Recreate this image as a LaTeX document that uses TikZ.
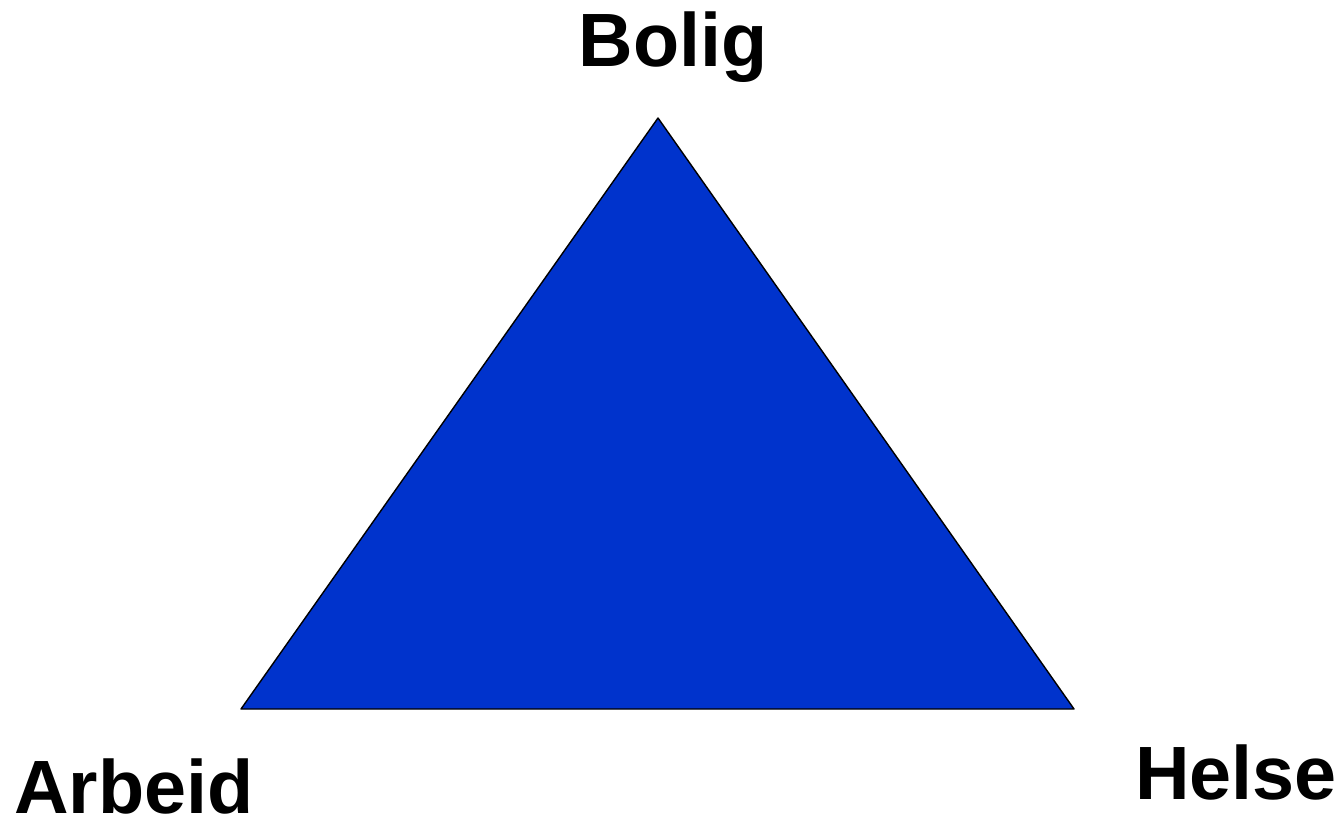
\documentclass[tikz,border=0pt]{standalone}
\usepackage{fontspec}
\setmainfont{Liberation Sans}
\definecolor{triblue}{HTML}{0033CC}

\begin{document}
\begin{tikzpicture}[x=0.02cm, y=-0.02cm]
  \useasboundingbox (0,0) rectangle (1341,824);
  \tikzset{corner/.style={font=\fontsize{43}{50}\selectfont\bfseries, anchor=base, inner sep=0pt}}

  \coordinate (B) at (658, 118);
  \coordinate (A) at (241, 709);
  \coordinate (H) at (1074, 709);

  % trekanten
  \filldraw[fill=triblue, draw=black, line width=0.8pt, line join=round] (B)--(A)--(H)--cycle;

  \node[corner] (bolig)  at (673, 67)  {Bolig};
  \node[corner] (arbeid) at (134, 813) {Arbeid};
  \node[corner] (helse)  at (1236, 799) {Helse};
\end{tikzpicture}
\end{document}
